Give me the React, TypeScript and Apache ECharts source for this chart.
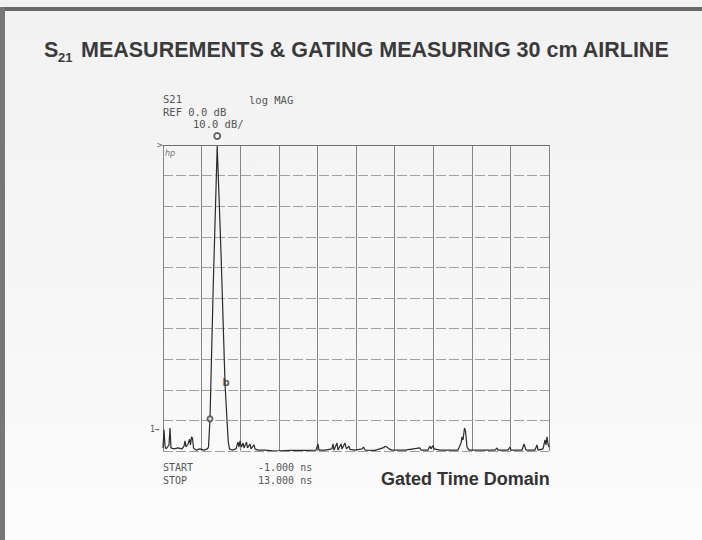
import React, { useEffect, useRef } from "react";
import * as echarts from "echarts";

// Gated time-domain S21 trace: time (ns) vs. log magnitude (dB)
const timeNs = [
  -1.0, -0.964, -0.927, -0.891, -0.837, -0.782, -0.746, -0.71, -0.601, -0.456,
  -0.311, -0.238, -0.202, -0.166, -0.093, -0.039, -0.003, 0.034, 0.07, 0.106,
  0.197, 0.342, 0.487, 0.614, 0.65, 0.705, 0.824, 0.966, 1.104, 1.249,
  1.321, 1.368, 1.412, 1.503, 1.648, 1.72, 1.757, 1.793, 1.847, 1.902,
  1.938, 2.029, 2.065, 2.156, 2.192, 2.301, 2.337, 2.446, 2.7, 3.062,
  3.606, 4.15, 4.549, 4.622, 4.658, 4.876, 5.13, 5.166, 5.202, 5.311,
  5.347, 5.456, 5.492, 5.601, 5.656, 5.746, 5.782, 5.964, 6.218, 6.272,
  6.327, 6.689, 6.979, 7.052, 7.124, 7.197, 7.306, 7.777, 8.321, 8.357,
  8.611, 8.684, 8.72, 8.793, 8.829, 9.047, 9.7, 9.809, 9.845, 9.881,
  9.935, 9.972, 10.026, 10.099, 10.498, 11.042, 11.114, 11.151, 11.513, 11.586,
  11.622, 12.021, 12.093, 12.13, 12.166, 12.492, 12.565, 12.601, 12.783, 12.855,
  12.891, 12.928, 12.964, 13.0,
];
const magDb = [
  -99.0, -93.1, -98.4, -99.3, -98.7, -98.0, -92.5, -99.0, -99.3, -99.0,
  -99.3, -98.4, -96.7, -98.7, -97.7, -96.1, -98.0, -95.4, -95.8, -99.0,
  -99.7, -99.3, -99.7, -99.3, -98.7, -89.5, -45.4, -0.3, -35.2, -77.8,
  -89.9, -97.1, -99.3, -99.7, -99.3, -97.1, -98.7, -96.7, -98.7, -97.4,
  -99.0, -97.1, -99.0, -97.7, -99.3, -98.0, -99.3, -99.7, -99.7, -100.0,
  -99.8, -99.8, -99.7, -97.7, -99.7, -99.7, -99.3, -97.7, -99.7, -97.4,
  -99.7, -97.7, -99.3, -97.4, -99.3, -98.4, -99.5, -99.7, -99.3, -98.7,
  -99.7, -99.8, -99.0, -98.5, -98.7, -99.3, -99.7, -99.7, -99.0, -99.7,
  -99.7, -98.4, -99.3, -98.2, -99.3, -99.7, -99.7, -97.4, -95.4, -96.4,
  -92.5, -93.5, -98.7, -99.7, -99.7, -99.7, -99.0, -99.7, -99.7, -98.7,
  -99.7, -99.7, -97.7, -98.7, -99.7, -99.7, -98.0, -99.7, -99.3, -96.4,
  -98.0, -95.4, -97.7, -98.7,
];

// Markers: 1 = peak, a / b = points on the impulse flanks
const markerNames = ["1", "a", "b"];
const markerTimeNs = [0.966, 0.705, 1.249];
const markerDb = [-0.3, -89.5, -77.8];

const xStartNs = -1;
const xStopNs = 13;
const yRefDb = 0;
const yMinDb = -100;
const yPerDivDb = 10;
const xDivisions = 10;

export default function App() {
  const ref = useRef<HTMLDivElement>(null);

  useEffect(() => {
    if (!ref.current) return;
    const chart = echarts.init(ref.current, null, { renderer: "svg" });

    const trace = timeNs.map((t, i) => [t, magDb[i]]);
    const markerStyle: Record<string, any> = {
      "1": { symbol: "emptyCircle", symbolSize: 6, symbolOffset: [0, -10] },
      a: { symbol: "emptyCircle", symbolSize: 5, symbolOffset: [0, 0] },
      b: {
        symbol: "circle",
        symbolSize: 1,
        label: {
          show: true,
          position: "inside",
          formatter: "b",
          color: "#333",
          fontSize: 10,
          fontWeight: "bold",
          fontFamily: "DejaVu Sans",
          offset: [1, -1],
        },
      },
    };
    const markerPts = markerNames.map((n, i) => ({
      name: n,
      value: [markerTimeNs[i], markerDb[i]],
      ...markerStyle[n],
    }));

    const mono = "DejaVu Sans Mono";
    const plotTextColor = "#555";
    const titleFont = "'Liberation Sans', Arial, sans-serif";

    chart.setOption({
      animation: false,
      backgroundColor: {
        type: "linear",
        x: 0,
        y: 0,
        x2: 0,
        y2: 1,
        colorStops: [
          { offset: 0, color: "#f2f2f2" },
          { offset: 0.55, color: "#f6f6f6" },
          { offset: 1, color: "#fcfcfc" },
        ],
      },
      grid: { left: 163, right: 153, top: 145, bottom: 89 },
      xAxis: [
        {
          type: "value",
          min: xStartNs,
          max: xStopNs,
          show: false,
        },
        {
          type: "value",
          min: 0,
          max: xDivisions,
          interval: 1,
          position: "top",
          axisLine: { show: true, lineStyle: { color: "#6f6f6f", width: 1.2 } },
          axisTick: { show: false },
          axisLabel: { show: false },
          splitLine: {
            show: true,
            lineStyle: { color: "#858585", width: 1 },
          },
        },
      ],
      yAxis: {
        type: "value",
        min: yMinDb,
        max: yRefDb,
        interval: yPerDivDb,
        axisLine: { show: false },
        axisTick: { show: false },
        axisLabel: { show: false },
        splitLine: {
          show: true,
          lineStyle: { color: "#a0a0a0", width: 1, type: [10, 3] },
        },
      },
      series: [
        {
          type: "line",
          xAxisIndex: 0,
          data: trace,
          showSymbol: false,
          symbol: "none",
          lineStyle: { color: "#2a2a2a", width: 1.2 },
          z: 3,
        },
        {
          type: "scatter",
          xAxisIndex: 0,
          data: markerPts,
          clip: false,
          itemStyle: { color: "#444", borderWidth: 0.9 },
          z: 4,
        },
      ],
      graphic: [
        { type: "rect", left: 0, top: 7, shape: { width: 702, height: 4 }, style: { fill: "#6a6a6a" } },
        { type: "rect", left: 0, top: 7, shape: { width: 5, height: 533 }, style: { fill: "#777" } },
        {
          type: "text",
          x: 44,
          y: 50,
          style: { text: "S", font: `bold 21.5px ${titleFont}`, fill: "#3a3a3a", verticalAlign: "middle" },
        },
        {
          type: "text",
          x: 58,
          y: 57,
          style: { text: "21", font: `bold 13px ${titleFont}`, fill: "#3a3a3a", verticalAlign: "middle" },
        },
        {
          type: "text",
          x: 81,
          y: 50,
          style: {
            text: "MEASUREMENTS & GATING MEASURING 30 cm AIRLINE",
            font: `bold 21.5px ${titleFont}`,
            fill: "#3a3a3a",
            verticalAlign: "middle",
          },
        },
        { type: "text", x: 163, y: 99, style: { text: "S21", font: `10.5px '${mono}'`, fill: plotTextColor, verticalAlign: "middle" } },
        { type: "text", x: 249, y: 100, style: { text: "log MAG", font: `10.5px '${mono}'`, fill: plotTextColor, verticalAlign: "middle" } },
        { type: "text", x: 163, y: 112, style: { text: "REF 0.0 dB", font: `10.5px '${mono}'`, fill: plotTextColor, verticalAlign: "middle" } },
        { type: "text", x: 193, y: 124, style: { text: "10.0 dB/", font: `10.5px '${mono}'`, fill: plotTextColor, verticalAlign: "middle" } },
        { type: "text", x: 157, y: 145, style: { text: ">", font: `9px '${mono}'`, fill: "#666", verticalAlign: "middle" } },
        { type: "text", x: 165, y: 153, style: { text: "hp", font: "italic 8px 'DejaVu Sans'", fill: "#777", verticalAlign: "middle" } },
        { type: "text", x: 150, y: 429, style: { text: "1→", font: `8px '${mono}'`, fill: "#555", verticalAlign: "middle" } },
        { type: "text", x: 163, y: 467, style: { text: "START", font: `10px '${mono}'`, fill: plotTextColor, verticalAlign: "middle" } },
        { type: "text", x: 258, y: 467, style: { text: "-1.000 ns", font: `10px '${mono}'`, fill: plotTextColor, verticalAlign: "middle" } },
        { type: "text", x: 163, y: 480, style: { text: "STOP", font: `10px '${mono}'`, fill: plotTextColor, verticalAlign: "middle" } },
        { type: "text", x: 258, y: 480, style: { text: "13.000 ns", font: `10px '${mono}'`, fill: plotTextColor, verticalAlign: "middle" } },
        {
          type: "text",
          x: 381,
          y: 479,
          style: { text: "Gated Time Domain", font: `bold 18px ${titleFont}`, fill: "#333", verticalAlign: "middle" },
        },
      ],
    });

    return () => chart.dispose();
  }, []);

  return (
    <div
      ref={ref}
      style={{ position: "absolute", left: 0, top: 0, width: 702, height: 540 }}
    />
  );
}
